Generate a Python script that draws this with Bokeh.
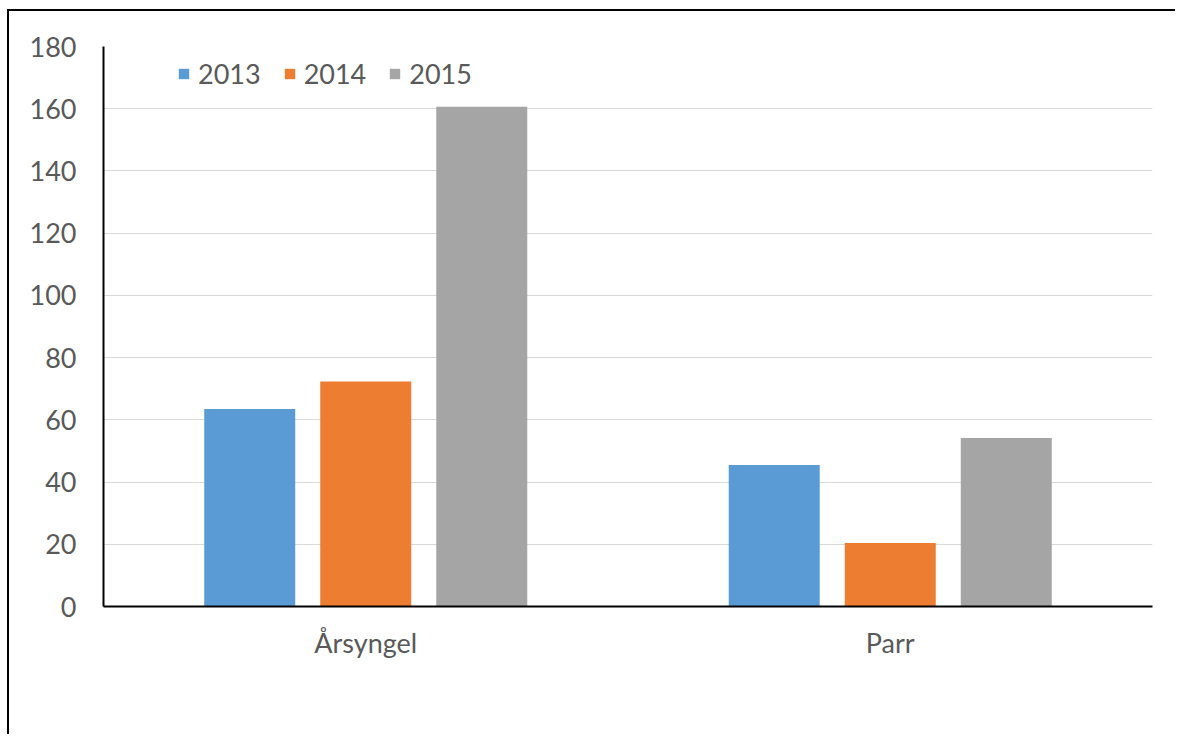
from bokeh.plotting import figure
from bokeh.models import ColumnDataSource, FixedTicker, Legend, LegendItem, FactorRange, Range1d
from bokeh.transform import dodge
from bokeh.embed import file_html
from bokeh.resources import INLINE

categories = ["Årsyngel", "Parr"]
years = ["2013", "2014", "2015"]
v2013 = [63.5, 45.5]
v2014 = [72.3, 20.4]
v2015 = [160.6, 54.2]
colors = ["#5B9BD5", "#ED7D31", "#A5A5A5"]
y_ticks = [0, 20, 40, 60, 80, 100, 120, 140, 160, 180]

FONT = "Lato"
TXT = "#595959"

source = ColumnDataSource(data=dict(cat=categories, y2013=v2013, y2014=v2014, y2015=v2015))

p = figure(
    x_range=FactorRange(*categories, range_padding=0),
    y_range=Range1d(0, 180),
    width=1168, height=725,
    output_backend="svg", toolbar_location=None,
    min_border_left=94, min_border_right=25, min_border_top=35, min_border_bottom=130,
)
p.margin = (9, 0, 0, 7)
p.styles = {"border-top": "2px solid black", "border-left": "2px solid black",
            "border-right": "none", "border-bottom": "none",
            "box-shadow": "none", "outline": "none"}
p.outline_line_color = None
p.background_fill_color = "white"
p.border_fill_color = "white"

offsets = [-0.2212, 0.0, 0.2212]
cols = ["y2013", "y2014", "y2015"]
renderers = []
for off, col, c in zip(offsets, cols, colors):
    r = p.vbar(x=dodge("cat", off, range=p.x_range), top=col, width=0.1735,
               source=source, fill_color=c, line_color=None)
    renderers.append(r)

p.yaxis.ticker = FixedTicker(ticks=y_ticks)
p.ygrid.ticker = FixedTicker(ticks=y_ticks)
p.ygrid.grid_line_color = "#D9D9D9"
p.ygrid.grid_line_width = 1
p.xgrid.grid_line_color = None

for ax in (p.xaxis, p.yaxis):
    ax.axis_line_color = "black"
    ax.axis_line_width = 2
    ax.major_tick_line_color = None
    ax.minor_tick_line_color = None
    ax.major_label_text_color = TXT
    ax.major_label_text_font = FONT
    ax.major_label_text_font_size = "27px"
p.yaxis.major_label_standoff = 21
p.xaxis.major_label_standoff = 13

legend = Legend(
    items=[LegendItem(label=y, renderers=[r]) for y, r in zip(years, renderers)],
    orientation="horizontal",
    location=(74, 516),
    glyph_width=13, glyph_height=13,
    label_text_font=FONT, label_text_font_size="27px", label_text_color=TXT,
    label_standoff=8, spacing=22, padding=0, margin=0,
    border_line_color=None, background_fill_alpha=0,
)
p.add_layout(legend, "center")

open("out.html", "w").write(file_html(p, INLINE))
